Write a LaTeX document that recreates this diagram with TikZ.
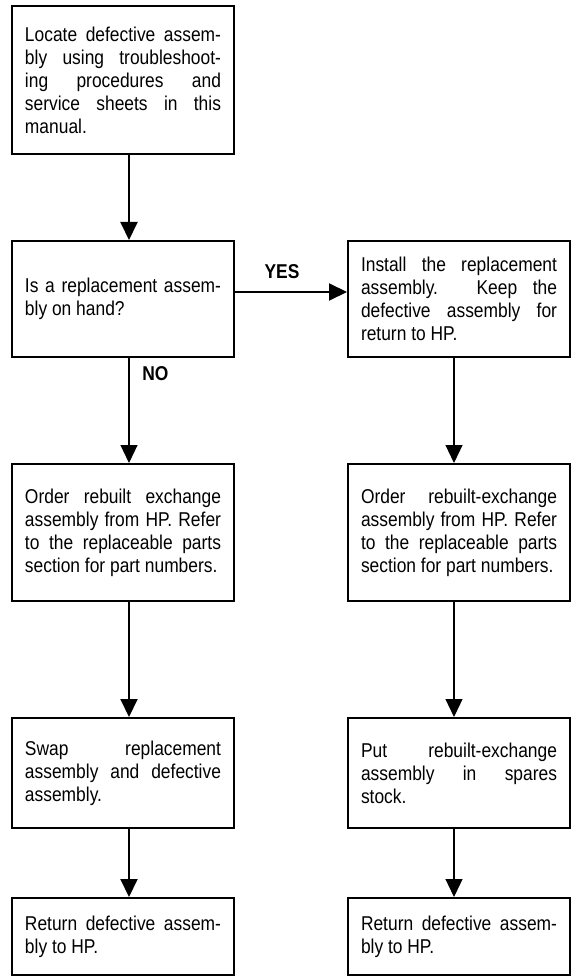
\documentclass[tikz,border=0pt]{standalone}
\usepackage{fontspec}
\setmainfont[FakeStretch=0.87]{Liberation Sans}
\usetikzlibrary{arrows.meta,positioning}
\hyphenpenalty=10000

\begin{document}
\begin{tikzpicture}[x=0.5pt,y=-0.5pt,>={Triangle[width=8.5pt,length=9pt]},
    box/.style={draw,line width=1pt,align=justify,text width=98pt,inner xsep=6.5pt,
        font=\fontsize{10}{11.5}\selectfont},
    lbl/.style={font=\fontsize{10}{11}\selectfont\bfseries},
    heavy/.style={line width=1pt},
    light/.style={line width=0.6pt}]
        \useasboundingbox (0,0) rectangle (572,978);

        \node[box,minimum height=74pt] (locate) at (123,80) {Locate defective assem-\linebreak bly using troubleshoot-\linebreak ing procedures and\linebreak service sheets in this\linebreak manual.};
        \node[box,minimum height=58pt] (onhand) at (123,299) {Is a replacement assem-\linebreak bly on hand?};
        \node[box,minimum height=58pt] (install) at (459,299) {Install the replacement\linebreak assembly. Keep the\linebreak defective assembly for\linebreak return to HP.};
        \node[box,minimum height=68.5pt] (orderno) at (123,532.5) {Order rebuilt exchange\linebreak assembly from HP. Refer\linebreak to the replaceable parts\linebreak section for part numbers.};
        \node[box,minimum height=68.5pt] (orderyes) at (459,532.5) {Order rebuilt-exchange\linebreak assembly from HP. Refer\linebreak to the replaceable parts\linebreak section for part numbers.};
        \node[box,minimum height=55pt] (swap) at (123,773) {Swap replacement\linebreak assembly and defective\linebreak assembly.};
        \node[box,minimum height=55pt] (spares) at (459,773) {Put rebuilt-exchange\linebreak assembly in spares\linebreak stock.};
        \node[box,minimum height=38.5pt] (returnno) at (123,936.5) {Return defective assem-\linebreak bly to HP.};
        \node[box,minimum height=38.5pt] (returnyes) at (459,936.5) {Return defective assem-\linebreak bly to HP.};

        \path[->,heavy] ([xshift=3pt]locate.south) edge ([xshift=3pt]onhand.north);
        \path[->,heavy] ([yshift=3.5pt]onhand.east) edge node[lbl,pos=0.42,above=3pt]{YES} ([yshift=3.5pt]install.west);
        \path[->,light] ([xshift=3pt]onhand.south) edge node[lbl,pos=0.15,right=3pt]{NO} ([xshift=3pt]orderno.north);
        \path[->,heavy] ([xshift=3pt]orderno.south) edge ([xshift=3pt]swap.north);
        \path[->,heavy] ([xshift=3pt]swap.south) edge ([xshift=3pt]returnno.north);
        \path[->,light] ([xshift=-2.5pt]install.south) edge ([xshift=-2.5pt]orderyes.north);
        \path[->,light] ([xshift=-2.5pt]orderyes.south) edge ([xshift=-2.5pt]spares.north);
        \path[->,light] ([xshift=-2.5pt]spares.south) edge ([xshift=-2.5pt]returnyes.north);
    \end{tikzpicture}
\end{document}
